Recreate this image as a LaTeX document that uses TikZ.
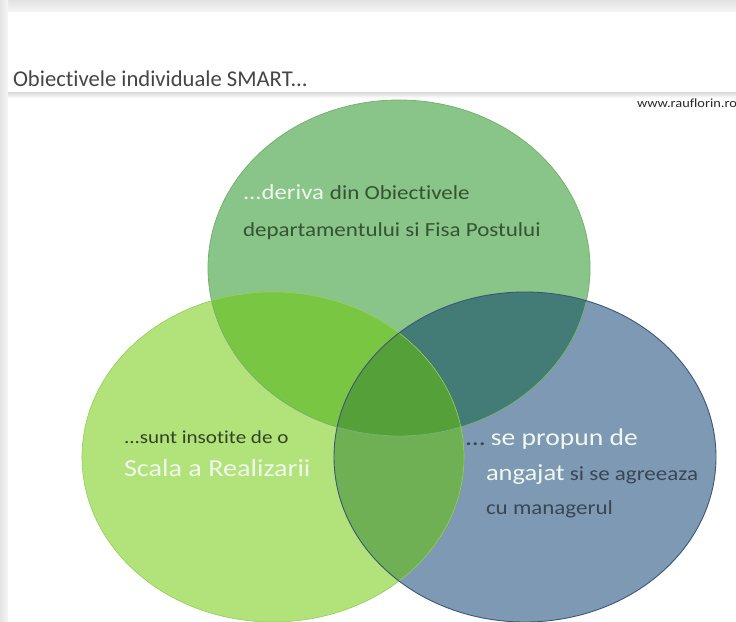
\documentclass[tikz,border=0pt]{standalone}
\usepackage{graphicx}
\usepackage{fontspec}
\setmainfont{Carlito}[Ligatures={NoCommon}]
\newcommand{\stretchtxt}[1]{\scalebox{1.15}[1]{#1}}
\begin{document}
\begin{tikzpicture}[x=1pt,y=-1pt,
  lbl/.style={anchor=base west,inner sep=0pt,outer sep=0pt},
  wtxt/.style={text={rgb,255:red,240;green,248;blue,238}},
  gtxt/.style={text={rgb,255:red,52;green,84;blue,50}},
  ltxt/.style={text={rgb,255:red,50;green,66;blue,36}},
  btxt/.style={text={rgb,255:red,58;green,70;blue,84}}]
\definecolor{topG}{RGB}{137,196,136}
\definecolor{leftG}{RGB}{178,226,122}
\definecolor{blueC}{RGB}{126,153,180}
\definecolor{TL}{RGB}{121,198,67}
\definecolor{TR}{RGB}{67,124,118}
\definecolor{LR}{RGB}{112,176,84}
\definecolor{TLR}{RGB}{86,160,57}
\useasboundingbox (0,0) rectangle (736,621);
% frame background
\fill[white] (0,0) rectangle (736,621);
\shade[top color={rgb,255:red,226;green,226;blue,226},bottom color={rgb,255:red,245;green,245;blue,245}] (0,0) rectangle (736,12);
\shade[left color={rgb,255:red,228;green,228;blue,228},right color={rgb,255:red,246;green,246;blue,246}] (0,0) rectangle (8,621);
\fill[white] (8,12) rectangle (736,621);
\shade[top color={rgb,255:red,215;green,215;blue,215},bottom color=white] (8,92) rectangle (736,98);
\node[lbl,font=\fontsize{22.6}{26}\selectfont,text={rgb,255:red,70;green,70;blue,70}] (title) at (13,86) {Obiectivele individuale SMART...};
\node[lbl,font=\fontsize{12.5}{14}\selectfont,text={rgb,255:red,40;green,40;blue,40}] (url) at (637,107) {\stretchtxt{www.rauflorin.ro}};
% circles
\def\topE{(399,268) ellipse [x radius=191,y radius=168]}
\def\leftE{(273,457) ellipse [x radius=191,y radius=165]}
\def\rightE{(525,457) ellipse [x radius=191,y radius=165]}
\fill[topG] \topE;
\fill[leftG] \leftE;
\fill[blueC] \rightE;
\begin{scope}\clip \topE; \fill[TL] \leftE; \fill[TR] \rightE; \end{scope}
\begin{scope}\clip \leftE; \fill[LR] \rightE; \end{scope}
\begin{scope}\clip \topE; \clip \leftE; \fill[TLR] \rightE; \end{scope}
\draw[line width=0.8pt,draw={rgb,255:red,120;green,178;blue,110}] \topE;
\draw[line width=0.6pt,draw={rgb,255:red,150;green,205;blue,90}] \leftE;
\draw[line width=0.9pt,draw={rgb,255:red,60;green,88;blue,120}] \rightE;
% texts
\node[lbl,font=\fontsize{21.5}{24}\selectfont,wtxt] (t1a) at (243,199) {\stretchtxt{...deriva}};
\node[lbl,font=\fontsize{20}{24}\selectfont,gtxt] (t1b) at ([xshift=6pt]t1a.base east) {\stretchtxt{din Obiectivele}};
\node[lbl,font=\fontsize{20}{24}\selectfont,gtxt] (t1c) at (243,236) {\stretchtxt{departamentului si Fisa Postului}};
\node[lbl,font=\fontsize{18.3}{22}\selectfont,ltxt] (t2a) at (124,443) {\stretchtxt{...sunt insotite de o}};
\node[lbl,font=\fontsize{24.5}{28}\selectfont,wtxt] (t2b) at (124,476) {\stretchtxt{Scala a Realizarii}};
\node[lbl,font=\fontsize{24}{28}\selectfont,btxt] (t3a) at (465,445) {\stretchtxt{...}};
\node[lbl,font=\fontsize{24}{28}\selectfont,wtxt] (t3b) at ([xshift=5pt]t3a.base east) {\stretchtxt{se propun de}};
\node[lbl,font=\fontsize{23}{28}\selectfont,wtxt] (t3c) at (486,480) {\stretchtxt{angajat}};
\node[lbl,font=\fontsize{20}{24}\selectfont,btxt] (t3d) at ([xshift=5pt]t3c.base east) {\stretchtxt{si se agreeaza}};
\node[lbl,font=\fontsize{20}{24}\selectfont,btxt] (t3e) at (486,514) {\stretchtxt{cu managerul}};
\end{tikzpicture}
\end{document}
